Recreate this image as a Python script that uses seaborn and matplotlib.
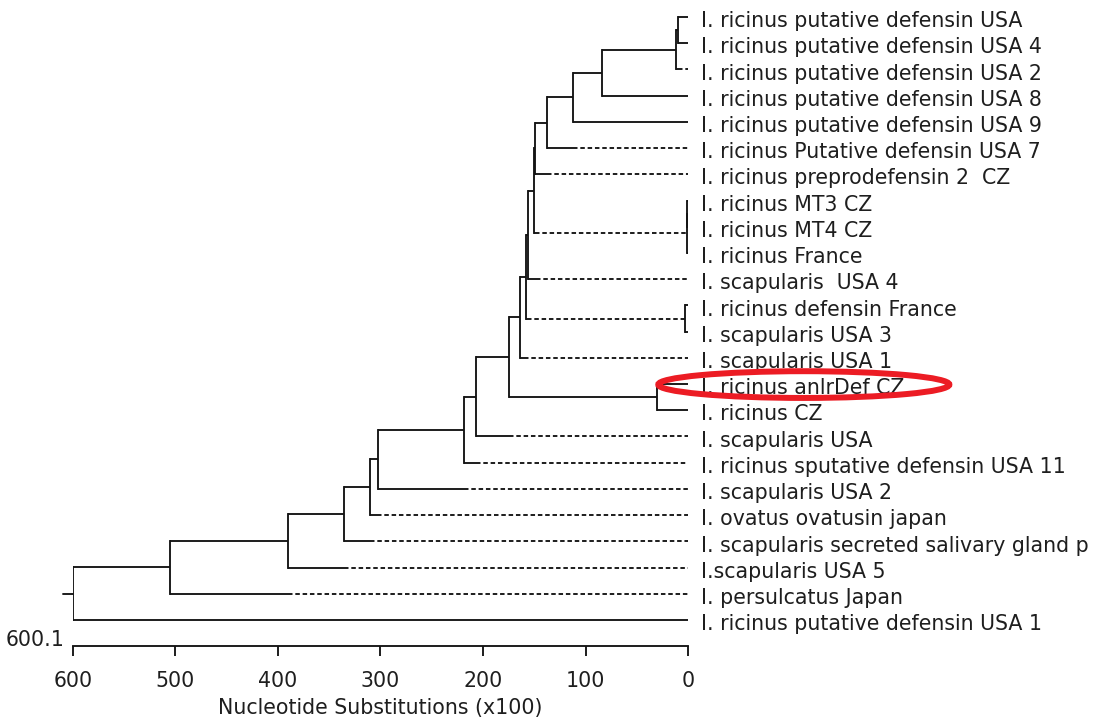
import matplotlib
matplotlib.use("Agg")
import matplotlib.pyplot as plt
from matplotlib.patches import Ellipse
import seaborn as sns

# leaves, top to bottom
leaf_labels = [
    "I. ricinus putative defensin USA",
    "I. ricinus putative defensin USA 4",
    "I. ricinus putative defensin USA 2",
    "I. ricinus putative defensin USA 8",
    "I. ricinus putative defensin USA 9",
    "I. ricinus Putative defensin USA 7",
    "I. ricinus preprodefensin 2  CZ",
    "I. ricinus MT3 CZ",
    "I. ricinus MT4 CZ",
    "I. ricinus France",
    "I. scapularis  USA 4",
    "I. ricinus defensin France",
    "I. scapularis USA 3",
    "I. scapularis USA 1",
    "I. ricinus anlrDef CZ",
    "I. ricinus CZ",
    "I. scapularis USA",
    "I. ricinus sputative defensin USA 11",
    "I. scapularis USA 2",
    "I. ovatus ovatusin japan",
    "I. scapularis secreted salivary gland p",
    "I.scapularis USA 5",
    "I. persulcatus Japan",
    "I. ricinus putative defensin USA 1",
]

# joins, in order; new node ids start after the leaves (24, 25, ...)
merge_a = [0, 24, 25, 26, 27, 28, 7, 30, 29, 32, 11, 33, 35, 14, 36, 38, 39, 40, 41, 42, 43, 44, 45]
merge_b = [1, 2, 3, 4, 5, 6, 8, 9, 31, 10, 12, 34, 13, 15, 37, 16, 17, 18, 19, 20, 21, 22, 23]
merge_height = [10, 12, 84, 112, 138, 149, 0.5, 0.9, 150, 156.5, 3, 158, 164, 30,
                175, 207, 219, 302.7, 310, 336, 390, 505, 600.1]

# branch turns dashed below this value (node id -> value)
dash_from = {2: 10, 5: 112, 6: 138, 31: 149, 10: 148, 34: 157, 13: 160,
             16: 175, 17: 207, 18: 219, 19: 303, 20: 310, 21: 336, 22: 390}

axis_ticks = [600, 500, 400, 300, 200, 100, 0]
x_label = "Nucleotide Substitutions (x100)"
highlight = "I. ricinus anlrDef CZ"

TIP = -2.0
LINE = "#141414"
TXT = "#1e1e1e"
FS = 14.8

sns.set_style("white")
plt.rcParams["font.family"] = ["DejaVu Sans"]

fig = plt.figure(figsize=(10.97, 7.19), dpi=100)
ax = fig.add_axes([73 / 1097, 1 - 646 / 719, 615 / 1097, 646 / 719])

n = len(leaf_labels)
ypos = {i: float(i) for i in range(n)}
height = {i: TIP for i in range(n)}

dash = (0, (2.4, 1.5))
lw = 1.35


def branch(x0, x1, y, node):
    if node in dash_from:
        xd = dash_from[node]
        ax.plot([x0, xd], [y, y], color=LINE, lw=lw, solid_capstyle="butt")
        ax.plot([xd, x1], [y, y], color=LINE, lw=lw, ls=dash)
    else:
        ax.plot([x0, x1], [y, y], color=LINE, lw=lw, solid_capstyle="butt")


for k, (a, b, h) in enumerate(zip(merge_a, merge_b, merge_height)):
    node = n + k
    ypos[node] = (ypos[a] + ypos[b]) / 2
    height[node] = h
    ax.plot([h, h], [ypos[a], ypos[b]], color=LINE, lw=lw, solid_capstyle="projecting")
    branch(h, height[a], ypos[a], a)
    branch(h, height[b], ypos[b], b)

root = n + len(merge_height) - 1
root_h = height[root]
ax.plot([root_h, root_h + 10], [ypos[root], ypos[root]], color=LINE, lw=lw, clip_on=False)

for i, lab in enumerate(leaf_labels):
    ax.annotate(lab, xy=(TIP, i), xytext=(8, -3), textcoords="offset points",
                ha="left", va="center", fontsize=FS, color=TXT,
                annotation_clip=False)

# red ring around one sequence
hi = leaf_labels.index(highlight)
ax.add_patch(Ellipse((-113, hi + 0.02), 284, 1.02, fill=False, edgecolor="#ec1c24",
                     lw=4.3, clip_on=False, zorder=5))

ax.set_xlim(600, 0)
ax.set_ylim(n - 1 + 26 / 26.22, -17 / 26.22)
ax.set_yticks([])
ax.set_xticks(axis_ticks)
ax.set_xticklabels([str(t) for t in axis_ticks])
for s in ["left", "top", "right"]:
    ax.spines[s].set_visible(False)
ax.spines["bottom"].set_color(LINE)
ax.spines["bottom"].set_linewidth(lw)
ax.tick_params(axis="x", direction="out", length=7.5, width=lw, color=LINE,
               pad=10.5, labelsize=FS, labelcolor=TXT, bottom=True)
ax.set_xlabel(x_label, fontsize=FS, color=TXT, labelpad=5)

ax.annotate(f"{root_h:.1f}", xy=(root_h, n - 1 + 26 / 26.22), xytext=(-6, 4.5),
            textcoords="offset points", ha="right", va="center", fontsize=FS,
            color=TXT, annotation_clip=False)

fig.savefig("out.png", dpi=100)
